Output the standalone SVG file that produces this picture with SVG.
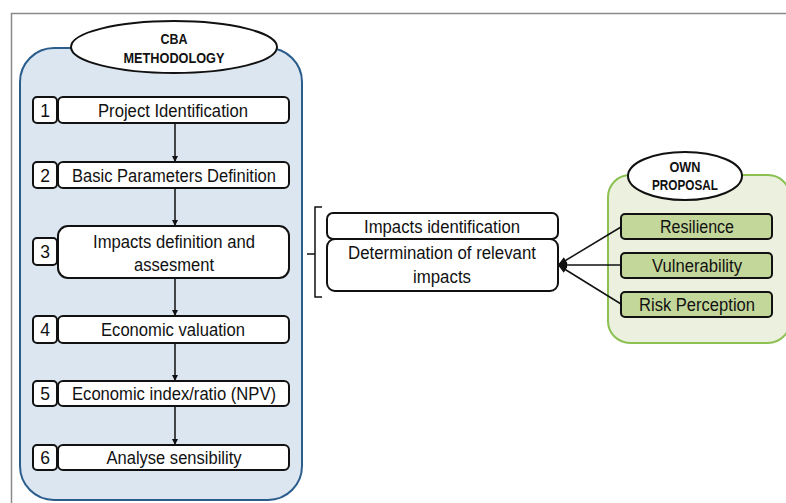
<svg xmlns="http://www.w3.org/2000/svg" width="786" height="503" viewBox="0 0 786 503">
<defs>
<style>
.t{font-family:"Liberation Sans Narrow","Liberation Sans",Arial,sans-serif;font-size:17.5px;fill:#111;text-anchor:middle}
.h{font-family:"Liberation Sans Narrow","Liberation Sans",Arial,sans-serif;font-size:14px;font-weight:bold;fill:#111;text-anchor:middle}
.box{fill:#fff;stroke:#111;stroke-width:2}
.gbox{fill:#c4d79b;stroke:#111;stroke-width:2}
.ln{stroke:#111;stroke-width:1.5;fill:none}
</style>
<marker id="ah" viewBox="0 0 10 10" refX="10" refY="5" markerWidth="6" markerHeight="6" orient="auto" markerUnits="userSpaceOnUse">
<path d="M0,0 L10,5 L0,10 z" fill="#111"/>
</marker>
<marker id="ah2" viewBox="0 0 10 10" refX="10" refY="5" markerWidth="9" markerHeight="9" orient="auto" markerUnits="userSpaceOnUse">
<path d="M0,1 L10,5 L0,9 z" fill="#111"/>
</marker>
</defs>
<rect width="786" height="503" fill="#fff"/>
<path d="M11.5,510 V13.5 H790" fill="none" stroke="#8a8a8a" stroke-width="1.5"/>

<g id="cba-panel">
<rect x="20" y="48" width="282" height="452" rx="34" fill="#dce6f1" stroke="#2a5d8c" stroke-width="2"/>
<ellipse cx="174" cy="47" rx="103" ry="26" fill="#fff" stroke="#111" stroke-width="2"/>
<text class="h" x="174" y="44" textLength="27" lengthAdjust="spacingAndGlyphs">CBA</text>
<text class="h" x="174" y="63" textLength="101" lengthAdjust="spacingAndGlyphs">METHODOLOGY</text>
</g>

<g id="step1">
<rect class="box" x="33" y="97" width="24" height="26" rx="4"/>
<text class="t" x="45" y="117">1</text>
<rect class="box" x="58" y="97" width="231" height="26" rx="5"/>
<text class="t" x="173" y="117" textLength="150" lengthAdjust="spacingAndGlyphs">Project Identification</text>
</g>
<g id="step2">
<rect class="box" x="33" y="162" width="24" height="26" rx="4"/>
<text class="t" x="45" y="182">2</text>
<rect class="box" x="58" y="162" width="231" height="26" rx="5"/>
<text class="t" x="174" y="182" textLength="204" lengthAdjust="spacingAndGlyphs">Basic Parameters Definition</text>
</g>
<g id="step3">
<rect class="box" x="33" y="238" width="24" height="27" rx="4"/>
<text class="t" x="45" y="258">3</text>
<rect class="box" x="58" y="226" width="231" height="52" rx="10"/>
<text class="t" x="174" y="248" textLength="162" lengthAdjust="spacingAndGlyphs">Impacts definition and</text>
<text class="t" x="174" y="271" textLength="80" lengthAdjust="spacingAndGlyphs">assesment</text>
</g>
<g id="step4">
<rect class="box" x="33" y="316" width="24" height="27" rx="4"/>
<text class="t" x="45" y="336">4</text>
<rect class="box" x="58" y="316" width="231" height="27" rx="5"/>
<text class="t" x="173" y="336" textLength="144" lengthAdjust="spacingAndGlyphs">Economic valuation</text>
</g>
<g id="step5">
<rect class="box" x="33" y="381" width="24" height="25" rx="4"/>
<text class="t" x="45" y="400">5</text>
<rect class="box" x="58" y="381" width="231" height="25" rx="5"/>
<text class="t" x="174" y="400" textLength="204" lengthAdjust="spacingAndGlyphs">Economic index/ratio (NPV)</text>
</g>
<g id="step6">
<rect class="box" x="33" y="445" width="24" height="25" rx="4"/>
<text class="t" x="45" y="464">6</text>
<rect class="box" x="58" y="445" width="231" height="25" rx="5"/>
<text class="t" x="174" y="464" textLength="135" lengthAdjust="spacingAndGlyphs">Analyse sensibility</text>
</g>

<g id="impacts">
<rect class="box" x="327" y="213" width="231" height="26" rx="6"/>
<text class="t" x="442" y="233" textLength="156" lengthAdjust="spacingAndGlyphs">Impacts identification</text>
<rect class="box" x="327" y="239" width="231" height="52" rx="8"/>
<text class="t" x="442" y="259" textLength="188" lengthAdjust="spacingAndGlyphs">Determination of relevant</text>
<text class="t" x="442" y="283" textLength="58" lengthAdjust="spacingAndGlyphs">impacts</text>
</g>

<g id="own-panel">
<rect x="608" y="175" width="182" height="168" rx="22" fill="#ebf1de" stroke="#8cc152" stroke-width="2"/>
<ellipse cx="685" cy="176" rx="57" ry="24" fill="#fff" stroke="#111" stroke-width="2"/>
<text class="h" x="685" y="172" textLength="31" lengthAdjust="spacingAndGlyphs">OWN</text>
<text class="h" x="685" y="190" textLength="66" lengthAdjust="spacingAndGlyphs">PROPOSAL</text>
</g>
<g id="resilience">
<rect class="gbox" x="621" y="214" width="151" height="25" rx="4"/>
<text class="t" x="697" y="233" textLength="74" lengthAdjust="spacingAndGlyphs">Resilience</text>
</g>
<g id="vulnerability">
<rect class="gbox" x="621" y="253" width="151" height="25" rx="4"/>
<text class="t" x="697" y="272" textLength="90" lengthAdjust="spacingAndGlyphs">Vulnerability</text>
</g>
<g id="risk">
<rect class="gbox" x="621" y="292" width="151" height="25" rx="4"/>
<text class="t" x="697" y="311" textLength="116" lengthAdjust="spacingAndGlyphs">Risk Perception</text>
</g>

<g id="connectors">
<line class="ln" x1="175" y1="123" x2="175" y2="162" marker-end="url(#ah)"/>
<line class="ln" x1="175" y1="188" x2="175" y2="226" marker-end="url(#ah)"/>
<line class="ln" x1="175" y1="278" x2="175" y2="316" marker-end="url(#ah)"/>
<line class="ln" x1="175" y1="343" x2="175" y2="381" marker-end="url(#ah)"/>
<line class="ln" x1="175" y1="406" x2="175" y2="445" marker-end="url(#ah)"/>
<path class="ln" d="M322,207 H315 V297 H322 M315,254 H307" stroke-width="2"/>
<line class="ln" x1="621" y1="227" x2="558" y2="265" marker-end="url(#ah2)"/>
<line class="ln" x1="621" y1="265" x2="558" y2="265" marker-end="url(#ah2)"/>
<line class="ln" x1="621" y1="304" x2="558" y2="265" marker-end="url(#ah2)"/>
</g>
</svg>
